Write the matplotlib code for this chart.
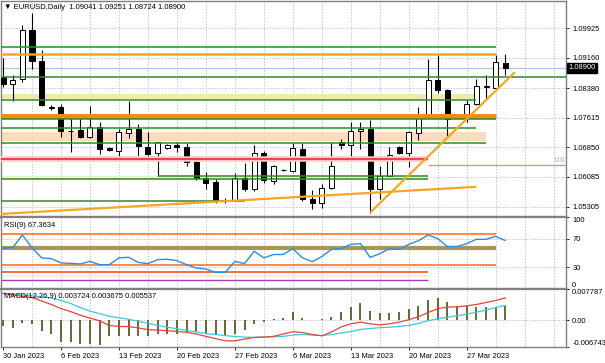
import matplotlib
matplotlib.use("Agg")
import matplotlib.pyplot as plt
import matplotlib.transforms as mtransforms
import numpy as np

plt.rcParams['font.family'] = ['Liberation Sans', 'DejaVu Sans']

# EURUSD daily candles, 30 Jan 2023 .. 31 Mar 2023 (6 bars a week)
opens = [1.08665, 1.08493, 1.08623, 1.09881, 1.09081, 1.07850, 1.07884, 1.07277, 1.07295, 1.07102,
         1.07381, 1.06826, 1.06756, 1.07217, 1.07321, 1.06860, 1.06686, 1.06826, 1.06904, 1.06842,
         1.06451, 1.06035, 1.05957, 1.05472, 1.05472, 1.06045, 1.05774, 1.06686, 1.05975, 1.06253,
         1.06235, 1.06800, 1.05498, 1.05410, 1.05800, 1.06990, 1.06904, 1.07277, 1.07321, 1.05774,
         1.06105, 1.06842, 1.06696, 1.07217, 1.07693, 1.08579, 1.08318, 1.07693, 1.07623, 1.07972,
         1.08397, 1.08389, 1.09041]
highs = [1.09152, 1.08727, 1.10011, 1.10323, 1.09360, 1.07928, 1.07972, 1.07667, 1.07623, 1.07910,
         1.07511, 1.06852, 1.07321, 1.08032, 1.07451, 1.07232, 1.06990, 1.06938, 1.06972, 1.06946,
         1.06626, 1.06191, 1.06019, 1.05532, 1.06175, 1.06436, 1.06904, 1.06756, 1.06384, 1.06288,
         1.06946, 1.06946, 1.05733, 1.05889, 1.06990, 1.07061, 1.07493, 1.07493, 1.07563, 1.06365,
         1.06860, 1.06886, 1.07277, 1.07884, 1.09144, 1.09274, 1.08363, 1.07719, 1.08058, 1.08623,
         1.08709, 1.09248, 1.09251]
lows = [1.08396, 1.08032, 1.08535, 1.08883, 1.07902, 1.07816, 1.07102, 1.06712, 1.07076, 1.07076,
        1.06670, 1.06748, 1.06540, 1.07076, 1.06608, 1.06522, 1.06105, 1.06795, 1.06712, 1.06365,
        1.06001, 1.05759, 1.05410, 1.05402, 1.05454, 1.05714, 1.05714, 1.05930, 1.05889, 1.06222,
        1.06191, 1.05454, 1.05253, 1.05280, 1.05759, 1.06800, 1.06522, 1.06800, 1.05149, 1.05514,
        1.06105, 1.06678, 1.06321, 1.07042, 1.07667, 1.08258, 1.07147, 1.07615, 1.07493, 1.07946,
        1.08102, 1.08363, 1.08724]
closes = [1.08493, 1.08597, 1.09881, 1.09081, 1.07928, 1.07876, 1.07277, 1.07269, 1.07102, 1.07381,
          1.06800, 1.06782, 1.07232, 1.07321, 1.06868, 1.06670, 1.06972, 1.06904, 1.06842, 1.06469,
          1.06045, 1.05930, 1.05472, 1.05462, 1.06045, 1.05774, 1.06686, 1.05993, 1.06347, 1.06245,
          1.06826, 1.05498, 1.05394, 1.05800, 1.06365, 1.06904, 1.07277, 1.07321, 1.05774, 1.06105,
          1.06644, 1.06696, 1.07232, 1.07693, 1.08579, 1.08318, 1.07581, 1.07641, 1.07972, 1.08423,
          1.08423, 1.09055, 1.08900]

rsi = [57.0, 57.3, 75.0, 57.3, 43.2, 42.2, 36.2, 35.6, 34.8, 38.4,
       33.8, 33.8, 43.2, 44.1, 37.0, 35.2, 40.8, 41.3, 39.4, 33.8,
       29.1, 27.7, 23.0, 23.0, 38.4, 35.2, 52.5, 43.2, 47.9, 47.9,
       55.9, 43.2, 38.0, 45.0, 55.0, 56.0, 62.0, 63.0, 44.0, 49.0,
       56.0, 55.0, 62.0, 67.0, 75.0, 70.0, 59.0, 59.0, 63.0, 69.0,
       69.0, 73.0, 67.3634]

macd_hist = [-0.00138, -0.00196, -0.00061, -0.00094, -0.00265, -0.00349, -0.00546, -0.00561, -0.00604, -0.00587,
             -0.00612, -0.00408, -0.00408, -0.00408, -0.00408, -0.00408, -0.00349, -0.00349, -0.00349, -0.00306,
             -0.00306, -0.00349, -0.00375, -0.00393, -0.00349, -0.00240, -0.00094, -0.00051, 0.00033, 0.00059,
             0.00204, 0.00059, 0.00010, 0.00020, 0.00084, 0.00212, 0.00332, 0.00416, 0.00230, 0.00179,
             0.00179, 0.00204, 0.00270, 0.00347, 0.00500, 0.00561, 0.00441, 0.00357, 0.00357, 0.00332,
             0.00332, 0.00332, 0.003724]
macd_cyan = [0.00671, 0.00658, 0.00632, 0.00607, 0.00581, 0.00556, 0.00492, 0.00416, 0.00314, 0.00224,
             0.00161, 0.00097, 0.00059, 0.00020, -0.00031, -0.00082, -0.00133, -0.00179, -0.00217, -0.00260,
             -0.00298, -0.00337, -0.00362, -0.00388, -0.00413, -0.00426, -0.00434, -0.00426, -0.00418, -0.00408,
             -0.00375, -0.00362, -0.00375, -0.00388, -0.00362, -0.00324, -0.00286, -0.00235, -0.00209, -0.00191,
             -0.00179, -0.00158, -0.00133, -0.00082, -0.00018, 0.00033, 0.00071, 0.00110, 0.00148, 0.00199,
             0.00250, 0.00314, 0.003675]
macd_red = [0.00671, 0.00632, 0.00594, 0.00561, 0.00479, 0.00390, 0.00288, 0.00212, 0.00122, 0.00051,
            -0.00018, -0.00133, -0.00158, -0.00163, -0.00196, -0.00240, -0.00252, -0.00265, -0.00286, -0.00306,
            -0.00349, -0.00408, -0.00464, -0.00520, -0.00520, -0.00477, -0.00434, -0.00426, -0.00408, -0.00349,
            -0.00291, -0.00311, -0.00362, -0.00393, -0.00298, -0.00171, -0.00094, -0.00051, -0.00094, -0.00120,
            -0.00094, -0.00051, 0.00008, 0.00084, 0.00186, 0.00288, 0.00326, 0.00332, 0.00357, 0.00390,
            0.00441, 0.00492, 0.005537]

date_labels = ['30 Jan 2023', '6 Feb 2023', '13 Feb 2023', '20 Feb 2023', '27 Feb 2023',
               '6 Mar 2023', '13 Mar 2023', '20 Mar 2023', '27 Mar 2023']
price_ticks = [1.09925, 1.09160, 1.08380, 1.07615, 1.06850, 1.06085, 1.05305]

# drawn objects on the price window: (level, first bar, last bar)
green_levels = [(1.09446, -1, 51), (1.08665, -1, 60), (1.08076, -1, 49), (1.07581, -1, 51),
                (1.07347, -1, 49), (1.06957, -1, 50), (1.06105, 16, 44), (1.06019, -1, 44),
                (1.05454, -1, 25)]
orange_levels = [(1.09274, -1, 51)]
khaki_band = (1.08102, 1.08214, 49)
peach_band = (1.07016, 1.07232, 50)
orange_band = (1.07623, 1.07712, 51)
pale_band = (1.06030, 1.06090, 44)
red_level = (1.06540, 44)
fib_level = (1.06384, 44)
trend1 = ([-0.3, 49.0], [1.05115, 1.05819])
trend2 = ([38.0, 53.0], [1.05149, 1.08795])

rsi_levels = [(76.5, '#f5823c', 1.3, 51), (57.3, '#a8965a', 3.0, 51), (33.8, '#f5823c', 1.3, 51),
              (23.5, '#f0643c', 1.3, 44), (12.7, '#a040c0', 1.0, 44)]

W, H = 605, 363
fig = plt.figure(figsize=(W / 100, H / 100), dpi=100)
fig.patch.set_facecolor('white')


def rect(x0, y0, x1, y1):
    return [x0 / W, 1 - y1 / H, (x1 - x0) / W, (y1 - y0) / H]


ax = fig.add_axes(rect(1, 1, 566, 217))
ax_rsi = fig.add_axes(rect(1, 217, 566, 289), sharex=ax)
ax_macd = fig.add_axes(rect(1, 289, 566, 347), sharex=ax)

n = len(opens)
idx = np.arange(n)
xmin, xmax = -0.21, 58.28
fs = 5.4
grid_kw = dict(color='#c8c8c8', lw=0.7, ls=(0, (1.5, 1.5)), zorder=0)

for a in (ax, ax_rsi, ax_macd):
    a.set_xlim(xmin, xmax)
    for s in a.spines.values():
        s.set_color('#808080')
        s.set_linewidth(1.0)
    a.yaxis.tick_right()
    a.tick_params(axis='y', labelsize=fs, length=2.5, pad=2, colors='black', width=0.6)
    a.tick_params(axis='x', length=0, labelbottom=False)
    for g in range(3, 58, 3):
        a.axvline(g, **grid_kw)
ax.spines['bottom'].set_linewidth(1.6)
ax_rsi.spines['top'].set_linewidth(1.6)
ax_rsi.spines['bottom'].set_linewidth(1.6)
ax_macd.spines['top'].set_linewidth(1.6)

# ---- price window
ax.set_ylim(1.05037, 1.10636)
ax.set_yticks(price_ticks)
ax.set_yticklabels(['%.5f' % p for p in price_ticks])
for p in price_ticks:
    ax.axhline(p, **grid_kw)

ax.fill_between([-1, khaki_band[2]], khaki_band[0], khaki_band[1], color='#efe9b4', lw=0, zorder=1)
ax.fill_between([-1, peach_band[2]], peach_band[0], peach_band[1], color='#fbdcc2', lw=0, zorder=1)
ax.fill_between([-1, pale_band[2]], pale_band[0], pale_band[1], color='#f6f0c8', lw=0, zorder=1)

# candles
up = np.array(closes) >= np.array(opens)
ax.vlines(idx, lows, highs, color='black', lw=0.8, zorder=3)
body_lo = np.minimum(opens, closes)
body_h = np.abs(np.array(closes) - np.array(opens))
ax.bar(idx, body_h, bottom=body_lo, width=0.52, color=np.where(up, 'white', 'black'),
       edgecolor='black', lw=0.7, zorder=4)

ax.hlines(orange_band[0] / 2 + orange_band[1] / 2, -1, orange_band[2], color='#f28a1e', lw=3.6, zorder=5)
for lvl, s, e in orange_levels:
    ax.hlines(lvl, s, e, color='#f5a623', lw=1.8, zorder=5)
ax.hlines(red_level[0], -1, red_level[1], color='#f8c8c8', lw=4, zorder=5)
ax.hlines(red_level[0], -1, red_level[1], color='#e23c3c', lw=1.3, zorder=5)
for lvl, s, e in green_levels:
    ax.hlines(lvl, s, e, color='#2e8b2e', lw=1.1, zorder=5)
ax.hlines(fib_level[0], fib_level[1], 60, color='#c8a088', lw=1.0, zorder=5)
ax.text(58.2, fib_level[0] + 0.0002, '0.0', color='#c8a088', fontsize=fs, ha='right', va='bottom')
ax.plot(trend1[0], trend1[1], color='#f5a623', lw=1.6, zorder=6, solid_capstyle='butt')
ax.plot(trend2[0], trend2[1], color='#f5a623', lw=1.6, zorder=6, solid_capstyle='butt')
ax.axhline(closes[-1], color='#b0c4de', lw=0.9, zorder=2)

tr = mtransforms.blended_transform_factory(ax.transAxes, ax.transData)
ax.text(1.004, closes[-1], '%.5f' % closes[-1], transform=tr, fontsize=fs, color='white',
        va='center', ha='left', bbox=dict(boxstyle='square,pad=0.15', fc='black', ec='black'),
        zorder=10, clip_on=False)

ax.text(0.006, 0.985, '\u25bc EURUSD,Daily  %.5f %.5f %.5f %.5f' % (opens[-1], highs[-1], lows[-1], closes[-1]),
        transform=ax.transAxes, fontsize=5.5, va='top', ha='left')

# ---- RSI window
ax_rsi.set_ylim(0, 100)
ax_rsi.set_yticks([100, 70, 30, 0])
ax_rsi.set_yticklabels(['100', '70', '30', '0'])
for lv in (70, 30):
    ax_rsi.axhline(lv, **grid_kw)
ax_rsi.fill_between([-1, 44], 16.0, 19.5, color='#f6f0c8', lw=0, zorder=1)
for lv, c, w, e in rsi_levels:
    ax_rsi.hlines(lv, -1, e, color=c, lw=w, zorder=2)
ax_rsi.plot(idx, rsi, color='#2a8ee6', lw=1.0, zorder=4)
ax_rsi.text(0.006, 0.93, 'RSI(9) %.4f' % rsi[-1], transform=ax_rsi.transAxes, fontsize=fs, va='top')

# ---- MACD window
ax_macd.set_ylim(-0.006743, 0.007787)
ax_macd.set_yticks([0.007787, 0.0, -0.006743])
ax_macd.set_yticklabels(['0.007787', '0.00', '-0.006743'])
ax_macd.axhline(0, **grid_kw)
ax_macd.vlines(idx, 0, macd_hist, color='#5a5a28', lw=1.3, zorder=2)
ax_macd.plot(idx, macd_cyan, color='#3cc8dc', lw=0.9, zorder=3)
ax_macd.plot(idx, macd_red, color='#e0463c', lw=0.9, zorder=3)
ax_macd.text(0.006, 0.93, 'MACD(12,26,9) %.6f %.6f %.6f' % (macd_hist[-1], macd_cyan[-1], macd_red[-1]),
             transform=ax_macd.transAxes, fontsize=fs, va='top')

# edge labels sit inside their window, as in the terminal
for a in (ax_rsi, ax_macd):
    labs = a.get_yticklabels()
    labs[0].set_va('top')
    labs[-1].set_va('bottom')

ax_macd.set_xticks(np.arange(0, 54, 6))
ax_macd.set_xticklabels(date_labels)
ax_macd.tick_params(axis='x', labelbottom=True, length=2.5, labelsize=fs, pad=2, width=0.6)
for t in ax_macd.get_xticklabels():
    t.set_ha('left')

fig.savefig('out.png', dpi=100, facecolor='white')
